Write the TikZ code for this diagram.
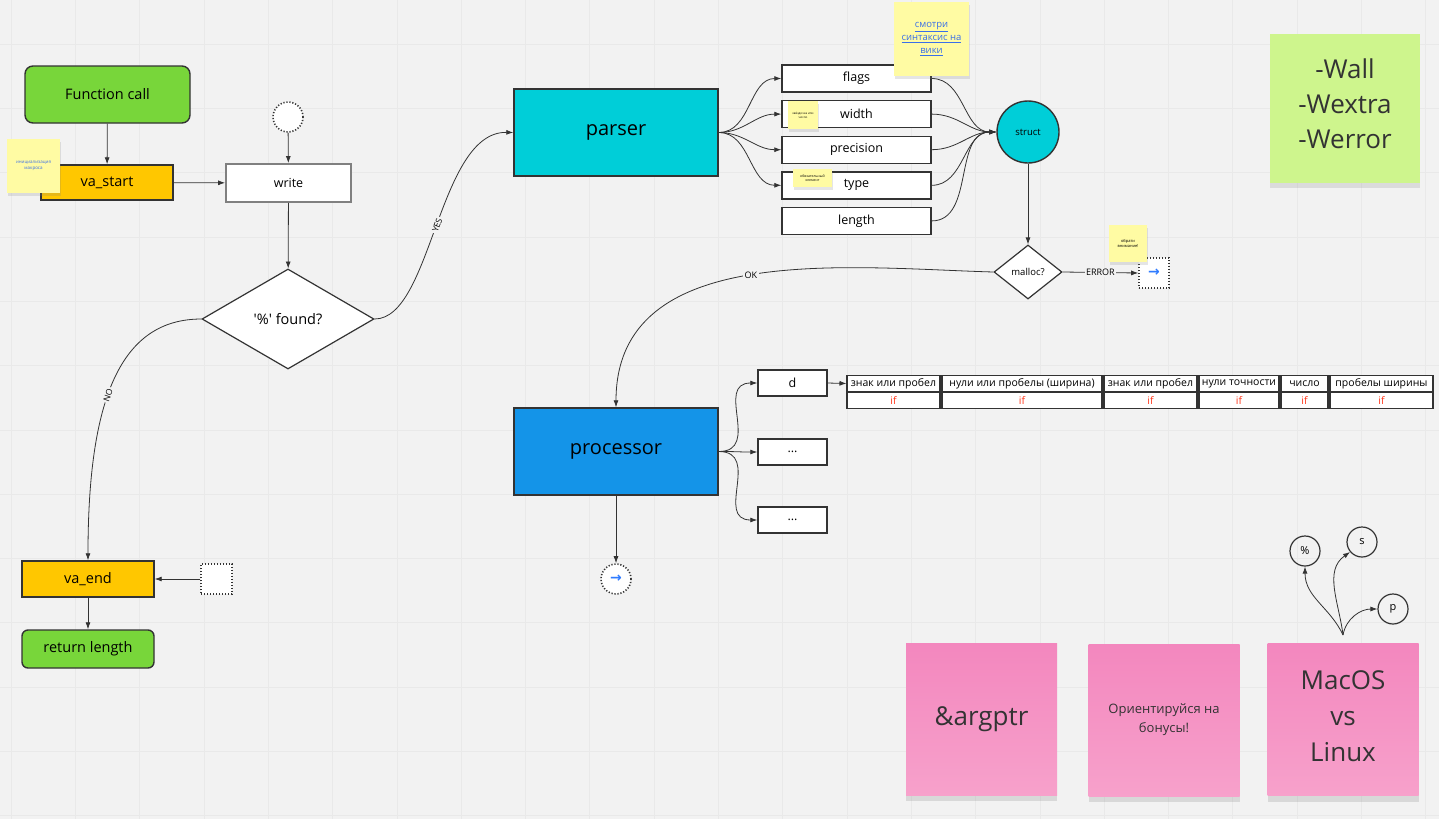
\documentclass[tikz,border=0pt]{standalone}
\usepackage{fontspec}
\setmainfont{Open Sans}
\newfontfamily\symfont{DejaVu Sans}
\usetikzlibrary{positioning, calc, arrows.meta, shapes.geometric, shadows}

\definecolor{bg}{HTML}{F2F2F2}
\definecolor{gridc}{HTML}{E9E9E9}
\definecolor{ln}{HTML}{333333}
\definecolor{grn}{HTML}{78D63A}
\definecolor{org}{HTML}{FFC700}
\definecolor{cyn}{HTML}{00CED8}
\definecolor{blu}{HTML}{1494E8}
\definecolor{stk}{HTML}{FFFBA3}
\definecolor{lime}{HTML}{CEF58D}
\definecolor{pnktop}{HTML}{F387BE}
\definecolor{pnkbot}{HTML}{F7A1CB}
\definecolor{lnkc}{HTML}{3A6FE8}
\definecolor{arr}{HTML}{2F7BFF}
\definecolor{iff}{HTML}{FF3B1F}

\begin{document}
\begin{tikzpicture}[x=1pt, y=-1pt, line width=0.8pt, >={Latex[length=7pt,width=5pt]},
    every node/.style={inner sep=0pt},
    edge/.style={draw=ln, line width=0.8pt, ->},
    blk/.style={draw=ln, line width=1.4pt, font=\fontsize{12.5}{15}\selectfont},
    big/.style={draw=ln, line width=1.4pt, font=\fontsize{14.5}{17}\selectfont},
    dia/.style={diamond, draw=ln, fill=white, line width=1.2pt},
    dotbox/.style={draw=ln, fill=white, line width=1.6pt, dash pattern=on 1.2pt off 1.8pt},
    sticky/.style={fill=stk, align=center, drop shadow={shadow xshift=1pt, shadow yshift=-3pt, opacity=.2}},
    note/.style={top color=pnktop, bottom color=pnkbot, align=center, text=ln, minimum width=151, minimum height=152,
        drop shadow={shadow xshift=0pt, shadow yshift=-6pt, opacity=.22}},
    lbl/.style={fill=bg, inner sep=1.5pt, font=\fontsize{8.5}{10}\selectfont},
    cell/.style={draw=ln, line width=1.1pt, fill=white, minimum height=16, font=\fontsize{10.5}{12}\selectfont}]

  \useasboundingbox (0,0) rectangle (1439,819);
  \fill[bg] (0,0) rectangle (1439,819);
  \foreach \i in {0,...,22} \draw[gridc, line width=0.5pt] ({11+64.3*\i},0) -- ++(0,819);
  \foreach \j in {0,...,12} \draw[gridc, line width=0.5pt] (0,{44+64.3*\j}) -- ++(1439,0);

  % left column
  \node[big, fill=grn, minimum width=165, minimum height=57, rounded corners=8pt] (fc) at (107.5,94.5) {Function call};
  \node[big, fill=org, minimum width=132, minimum height=35] (vs) at (107,182.5) {va\_start};
  \node[sticky, minimum width=53, minimum height=54, font=\fontsize{4.5}{6}\selectfont, text=lnkc] (ini) at (33.5,166) {инициализация\\макроса};
  \node[dotbox, circle, minimum size=30] (c0) at (288,117) {};
  \node[blk, draw=gray, line width=1.8pt, fill=white, minimum width=125, minimum height=38] (wr) at (288.5,183) {write};
  \node[dia, minimum width=172, minimum height=100, font=\fontsize{14.5}{17}\selectfont] (pf) at (288,319) {\textquotesingle\%\textquotesingle{} found?};
  \node[big, fill=org, minimum width=132, minimum height=36] (ve) at (88,579) {va\_end};
  \node[big, fill=grn, minimum width=132, minimum height=38, rounded corners=6pt] (rl) at (88,649) {return length};
  \node[dotbox, minimum width=31, minimum height=30] (sq) at (216.5,579) {};

  \draw[edge] (fc) -- (vs);
  \draw[edge] (vs) -- (wr);
  \draw[edge] (c0) -- (wr);
  \draw[edge] (wr) -- (pf);
  \draw[edge] (sq) -- (ve);
  \draw[edge] (ve) -- (rl);
  \draw[edge] (pf.west) .. controls (120,319) and (88,400) .. node[lbl, sloped, pos=0.56] {NO} (ve.north);

  % parser
  \node[draw=ln, line width=1.4pt, fill=cyn, minimum width=204, minimum height=87, font=\fontsize{20}{24}\selectfont] (ps) at (616,132.5) {parser};
  \draw[edge] (pf.east) .. controls (432,319) and (438,131) .. node[lbl, sloped, pos=0.5] {YES} (ps.west);

  \node[blk, fill=white, minimum width=149, minimum height=27] (fl) at (856.5,78.5) {flags};
  \node[blk, fill=white, minimum width=149, minimum height=27, below=7.2pt of fl] (wd) {width};
  \node[blk, fill=white, minimum width=149, minimum height=27, below=7.2pt of wd] (pr) {precision};
  \node[blk, fill=white, minimum width=149, minimum height=27, below=7.2pt of pr] (tp) {type};
  \node[blk, fill=white, minimum width=149, minimum height=27, below=7.2pt of tp] (lg) {length};
  \node[sticky, minimum width=30, minimum height=28, font=\fontsize{3}{4}\selectfont] (wn) at (803,115) {звёздочка или\\число};
  \node[sticky, minimum width=39, minimum height=18, font=\fontsize{3.5}{4.5}\selectfont] (tn) at (812.5,178) {обязательный\\элемент};

  \foreach \f in {fl,wd,pr,tp}
    \draw[edge] (ps.east) to[out=0, in=180] (\f.west);

  \node[circle, draw=ln, line width=1.4pt, fill=cyn, minimum size=62, font=\fontsize{9.5}{11}\selectfont] (st) at (1028,132) {struct};
  \foreach \f in {fl,wd,pr,tp,lg}
    \draw[edge] (\f.east) to[out=0, in=180] (st.west);

  \node[sticky, minimum width=75, minimum height=74, font=\fontsize{9.5}{13}\selectfont, text=lnkc] (wiki) at (931.5,39) {\underline{смотри}\\\underline{синтаксис на}\\\underline{вики}};

  \node[dia, minimum width=68, minimum height=54, font=\fontsize{9.5}{11}\selectfont] (ml) at (1028,272) {malloc?};
  \draw[edge] (st) -- (ml);
  \node[dotbox, minimum width=30, minimum height=30, font=\symfont\bfseries\fontsize{14}{14}\selectfont, text=arr] (eb) at (1154,273) {→};
  \draw[edge] (ml.east) -- node[lbl, font=\fontsize{9}{10}\selectfont] {ERROR} (eb.west);
  \node[sticky, minimum width=38, minimum height=37, font=\fontsize{4}{5}\selectfont] (en) at (1128,243.5) {обрати\\внимание!};

  % processor
  \node[draw=ln, line width=1.4pt, fill=blu, minimum width=204, minimum height=87, font=\fontsize{20}{24}\selectfont] (pc) at (616,451.5) {processor};
  \draw[edge] (ml.west) .. controls (850,268) and (616,240) .. node[lbl, pos=0.5, font=\fontsize{9}{10}\selectfont] {OK} (pc.north);

  \node[blk, fill=white, minimum width=69, minimum height=26] (d) at (792.5,383) {d};
  \node[blk, fill=white, minimum width=69, minimum height=26] (o1) at (792.5,452) {...};
  \node[blk, fill=white, minimum width=69, minimum height=26] (o2) at (792.5,520) {...};
  \foreach \f in {d,o1,o2}
    \draw[edge] (pc.east) to[out=0, in=180, looseness=1.4] (\f.west);

  \node[dotbox, circle, minimum size=30, font=\symfont\bfseries\fontsize{14}{14}\selectfont, text=arr] (pe) at (616,579) {→};
  \draw[edge] (pc) -- (pe);

  % table
  \foreach \cx/\w/\t [count=\k] in {893.5/93/знак или пробел, 1022/160/нули или пробелы (ширина),
      1150.5/93/знак или пробел, 1239/80/нули точности, 1304.5/47/число, 1381.5/103/пробелы ширины} {
    \node[cell, minimum width=\w] (h\k) at (\cx,383.5) {\t};
    \node[cell, minimum width=\w, text=iff] (f\k) at (\cx,400.5) {if};
  }
  \draw[edge] (d.east) -- (h1.west);

  % notes
  \node[fill=lime, minimum width=150, minimum height=149,
      drop shadow={shadow xshift=0pt, shadow yshift=-5pt, opacity=.2}] (wall) at (1345,108.5) {};
  \node[align=center, text=ln, font=\fontsize{26}{35}\selectfont] (wallt) at ([yshift=5pt]wall.center) {-Wall\\-Wextra\\-Werror};
  \node[note, font=\fontsize{26}{35}\selectfont] (ap) at (981.5,719) {\&argptr};
  \node[note, font=\fontsize{13}{19}\selectfont] (bn) at (1164,720) {Ориентируйся на\\бонусы!};
  \node[note] (os) at (1343,719.5) {};
  \node[align=center, text=ln, font=\fontsize{26}{36}\selectfont] (ost) at ([yshift=3.5pt]os.center) {MacOS\\vs\\Linux};

  \coordinate (root) at (1343,635);
  \node[circle, draw=ln, line width=1.2pt, minimum size=30, font=\fontsize{11}{13}\selectfont] (pc1) at (1305,551) {\%};
  \node[circle, draw=ln, line width=1.2pt, minimum size=30, font=\fontsize{11}{13}\selectfont] (s1) at (1362,542) {s};
  \node[circle, draw=ln, line width=1.2pt, minimum size=30, font=\fontsize{11}{13}\selectfont] (p1) at (1393,609) {p};
  \draw[edge] (root) to[out=115, in=-90] (pc1.south);
  \draw[edge] (root) to[out=97, in=215] (s1.220);
  \draw[edge] (root) to[out=80, in=180] (p1.west);
\end{tikzpicture}
\end{document}
